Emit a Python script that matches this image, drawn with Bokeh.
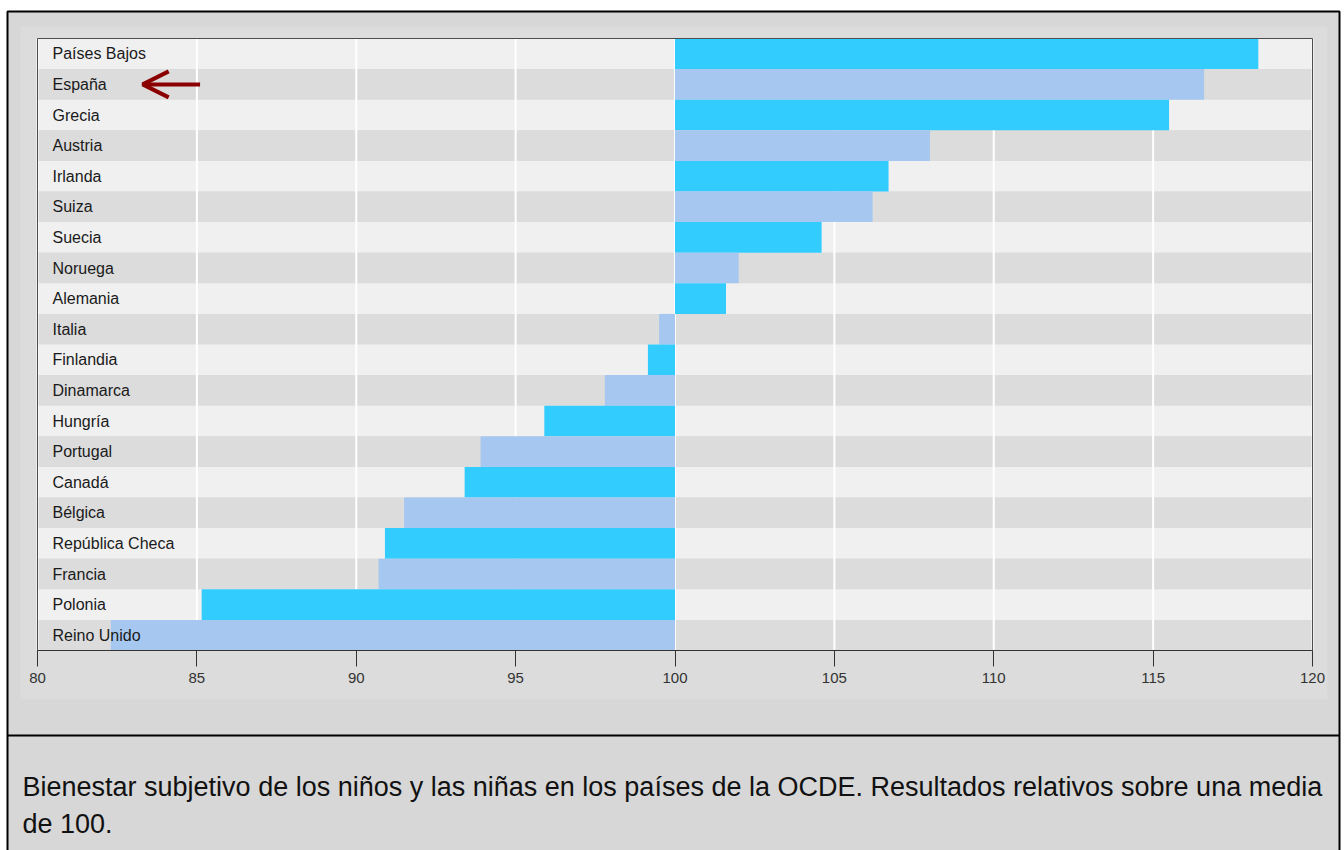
from bokeh.plotting import figure
from bokeh.models import (ColumnDataSource, Range1d, LinearAxis, FixedTicker,
                          Arrow, OpenHead)
from bokeh.core.properties import value
from bokeh.embed import file_html
from bokeh.resources import INLINE

# Subjective well-being index per country (OECD mean = 100), top to bottom
countries = ["Países Bajos", "España", "Grecia", "Austria", "Irlanda", "Suiza",
             "Suecia", "Noruega", "Alemania", "Italia", "Finlandia", "Dinamarca",
             "Hungría", "Portugal", "Canadá", "Bélgica", "República Checa",
             "Francia", "Polonia", "Reino Unido"]
scores = [118.3, 116.6, 115.5, 108.0, 106.7, 106.2, 104.6, 102.0, 101.6, 99.5,
          99.15, 97.8, 95.9, 93.9, 93.4, 91.5, 90.9, 90.7, 85.15, 82.3]
baseline = 100
x_ticks = [80, 85, 90, 95, 100, 105, 110, 115, 120]
highlight = "España"
caption_lines = [
    "Bienestar subjetivo de los niños y las niñas en los países de la OCDE. "
    "Resultados relativos sobre una media",
    "de 100.",
]

bar_palette = ["#33CCFF", "#A6C8F0"]
row_palette = ["#F0F0F0", "#DCDCDC"]
FONT = "Liberation Sans"

# page geometry in pixels
W, H = 1344, 850
PLOT_L, PLOT_R, PLOT_T, PLOT_B = 37, 1312, 38, 650

n = len(countries)
x_lo, x_hi = x_ticks[0], x_ticks[-1]
px_per_unit = (PLOT_R - PLOT_L) / (x_hi - x_lo)
px_per_row = (PLOT_B - PLOT_T) / n


def dx(px):
    """page x pixel -> data x"""
    return x_lo + (px - PLOT_L) / px_per_unit


def dy(py):
    """page y pixel -> row coordinate (0 = top of first row, grows downward)"""
    return (py - PLOT_T) / px_per_row


src = ColumnDataSource(dict(
    country=countries,
    score=scores,
    row=[i + 0.5 for i in range(n)],
    bar_color=[bar_palette[i % 2] for i in range(n)],
    row_color=[row_palette[i % 2] for i in range(n)],
))

p = figure(width=W, height=H,
           x_range=Range1d(dx(0), dx(W)),
           y_range=Range1d(dy(H), dy(0)),
           output_backend="svg", toolbar_location=None,
           x_axis_location=None, y_axis_location=None, min_border=0)
p.background_fill_color = "white"
p.border_fill_color = "white"
p.outline_line_color = None
p.xgrid.visible = False
p.ygrid.visible = False

# grey card with a lighter panel around the chart
p.quad(left=dx(7), right=dx(1339), top=dy(11), bottom=dy(H + 20),
       fill_color="#D7D7D7", line_color=None)
p.quad(left=dx(20), right=dx(1327), top=dy(26), bottom=dy(699),
       fill_color="#DCDCDC", line_color=None)

# alternating row stripes
p.hbar(y="row", left=x_lo, right=x_hi, height=1, source=src,
       fill_color="row_color", line_color=None)

# vertical white grid at each tick
p.segment(x0=x_ticks, x1=x_ticks, y0=0, y1=n, line_color="white", line_width=2)

# bars measured from the mean of 100
p.hbar(y="row", left=baseline, right="score", height=1, source=src,
       fill_color="bar_color", line_color=None)

# frame of the plotting area
p.quad(left=x_lo, right=x_hi, top=0, bottom=n, fill_color=None,
       line_color="#4D4D4D", line_width=1)

# country names inside the plot area
p.text(x=x_lo, y="row", text="country", source=src, x_offset=15,
       text_baseline="middle", text_align="left", text_font=value(FONT),
       text_font_size="16px", text_color="#1A1A1A")

# card outline and caption separator
p.quad(left=dx(7), right=dx(1339), top=dy(11), bottom=dy(H + 20),
       fill_color=None, line_color="black", line_width=2)
p.segment(x0=dx(7), x1=dx(1339), y0=dy(735), y1=dy(735),
          line_color="black", line_width=2)

# caption
p.text(x=[dx(22)] * len(caption_lines), y=[dy(786), dy(823)], text=caption_lines,
       text_baseline="alphabetic", text_align="left", text_font=value(FONT),
       text_font_size="27px", text_color="#111111")

# x axis pinned to the bottom edge of the rows
ax = LinearAxis(fixed_location=n, bounds=(x_lo, x_hi),
                ticker=FixedTicker(ticks=x_ticks))
ax.axis_line_color = "#333333"
ax.major_tick_line_color = "#333333"
ax.major_tick_out = 16
ax.major_tick_in = 0
ax.minor_tick_line_color = None
ax.major_label_text_font = FONT
ax.major_label_text_font_size = "15px"
ax.major_label_text_color = "#333333"
ax.major_label_standoff = 6
p.add_layout(ax, "below")

# arrow pointing at the highlighted country
y_hl = countries.index(highlight) + 0.5
arrow_color = "#8B0000"
p.add_layout(Arrow(end=OpenHead(size=26, line_color=arrow_color, line_width=4),
                   x_start=85.1, y_start=y_hl, x_end=83.3, y_end=y_hl,
                   line_color=arrow_color, line_width=4))

open("out.html", "w").write(file_html(p, INLINE))
